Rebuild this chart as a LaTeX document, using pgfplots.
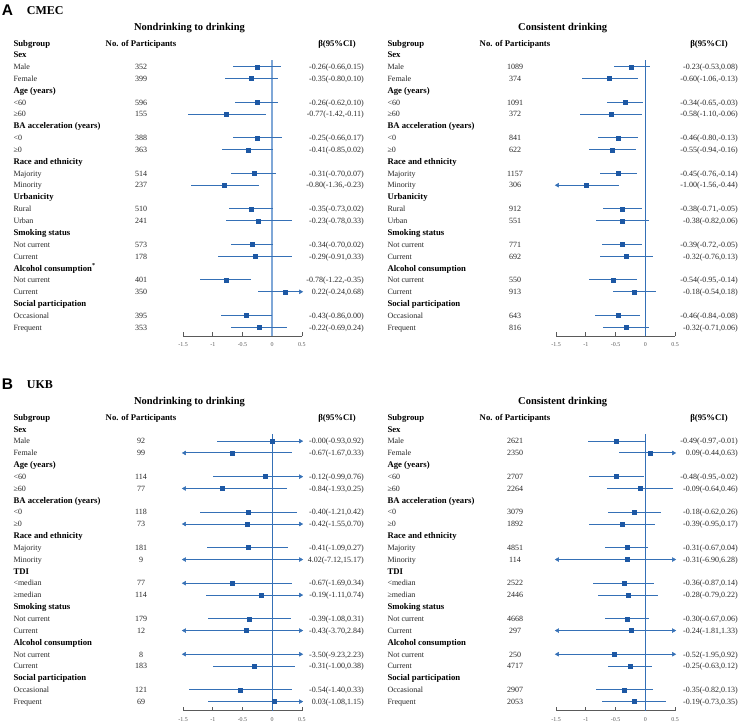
\documentclass[border=0pt]{standalone}
\usepackage{fontspec}
\setmainfont{Liberation Serif}
\newfontfamily\sansfont{Liberation Sans}
\usepackage{pgfplots}
\usepackage{pgfplotstable}
\pgfplotsset{compat=1.18}

\definecolor{ciblue}{HTML}{3570B6}
\definecolor{sqblue}{HTML}{1D58A4}
\definecolor{zlight}{HTML}{7FA7D7}
\definecolor{txt}{HTML}{262626}
\definecolor{axgray}{HTML}{5A5A5A}

% r = row, est, lo, hi
\pgfplotstableread{
r est lo hi
2 -0.26 -0.66 0.15
3 -0.35 -0.80 0.10
5 -0.26 -0.62 0.10
6 -0.77 -1.42 -0.11
8 -0.25 -0.66 0.17
9 -0.41 -0.85 0.02
11 -0.31 -0.70 0.07
12 -0.80 -1.36 -0.23
14 -0.35 -0.73 0.02
15 -0.23 -0.78 0.33
17 -0.34 -0.70 0.02
18 -0.29 -0.91 0.33
20 -0.78 -1.22 -0.35
21 0.22 -0.24 0.68
23 -0.43 -0.86 0.00
24 -0.22 -0.69 0.24
}\dataAL

\pgfplotstableread{
r est lo hi
2 -0.23 -0.53 0.08
3 -0.60 -1.06 -0.13
5 -0.34 -0.65 -0.03
6 -0.58 -1.10 -0.06
8 -0.46 -0.80 -0.13
9 -0.55 -0.94 -0.16
11 -0.45 -0.76 -0.14
12 -1.00 -1.56 -0.44
14 -0.38 -0.71 -0.05
15 -0.38 -0.82 0.06
17 -0.39 -0.72 -0.05
18 -0.32 -0.76 0.13
20 -0.54 -0.95 -0.14
21 -0.18 -0.54 0.18
23 -0.46 -0.84 -0.08
24 -0.32 -0.71 0.06
}\dataAR

\pgfplotstableread{
r est lo hi
2 -0.00 -0.93 0.92
3 -0.67 -1.67 0.33
5 -0.12 -0.99 0.76
6 -0.84 -1.93 0.25
8 -0.40 -1.21 0.42
9 -0.42 -1.55 0.70
11 -0.41 -1.09 0.27
12 4.02 -7.12 15.17
14 -0.67 -1.69 0.34
15 -0.19 -1.11 0.74
17 -0.39 -1.08 0.31
18 -0.43 -3.70 2.84
20 -3.50 -9.23 2.23
21 -0.31 -1.00 0.38
23 -0.54 -1.40 0.33
24 0.03 -1.08 1.15
}\dataBL

\pgfplotstableread{
r est lo hi
2 -0.49 -0.97 -0.01
3 0.09 -0.44 0.63
5 -0.48 -0.95 -0.02
6 -0.09 -0.64 0.46
8 -0.18 -0.62 0.26
9 -0.39 -0.95 0.17
11 -0.31 -0.67 0.04
12 -0.31 -6.90 6.28
14 -0.36 -0.87 0.14
15 -0.28 -0.79 0.22
17 -0.30 -0.67 0.06
18 -0.24 -1.81 1.33
20 -0.52 -1.95 0.92
21 -0.25 -0.63 0.12
23 -0.35 -0.82 0.13
24 -0.19 -0.73 0.35
}\dataBR

\pgfplotsset{forest/.style={
  scale only axis, width=119pt, height=276.2pt,
  xmin=-1.5, xmax=0.5, ymin=-24.76, ymax=-1.43,
  axis x line*=bottom, axis y line=none, ytick=\empty,
  xtick={-1.5,-1,-0.5,0,0.5}, xticklabels={-1.5,-1,-0.5,0,0.5},
  tick align=inside, major tick length=4pt,
  axis line style={axgray, line width=0.6pt},
  xtick style={axgray, line width=0.6pt},
  xticklabel style={font=\fontsize{6}{7}\selectfont, text=axgray, yshift=-3pt},
  clip=false, anchor=south west,
}}

% draws CI lines, arrows, squares from a table
\newcommand{\forestplots}[1]{%
  \addplot[draw=none, mark=none, forget plot,
    error bars/.cd, x dir=both, x explicit, error mark=none,
    error bar style={draw=ciblue, line width=1pt}]
    table[x expr={(max(\thisrow{lo},-1.5)+min(\thisrow{hi},0.5))/2},
          y expr=-\thisrow{r},
          x error expr={(min(\thisrow{hi},0.5)-max(\thisrow{lo},-1.5))/2}] {#1};
  \addplot[only marks, mark=triangle*, mark size=2.2pt, color=ciblue,
    mark options={rotate=90}]
    table[x expr={\thisrow{lo}<-1.5 ? -1.475 : nan}, y expr=-\thisrow{r}] {#1};
  \addplot[only marks, mark=triangle*, mark size=2.2pt, color=ciblue,
    mark options={rotate=-90}]
    table[x expr={\thisrow{hi}>0.5 ? 0.475 : nan}, y expr=-\thisrow{r}] {#1};
  \addplot[only marks, mark=square*, mark size=2pt, color=sqblue,
    restrict x to domain=-1.5:0.5]
    table[x=est, y expr=-\thisrow{r}] {#1};
}

\tikzset{
  labf/.style={font=\fontsize{8}{9}\selectfont, text=txt, inner sep=0pt, text height=5.5pt, text depth=0pt},
  catf/.style={font=\bfseries\fontsize{8.7}{10}\selectfont, text=black, inner sep=0pt, text height=5.8pt, text depth=0pt},
  titf/.style={font=\bfseries\fontsize{10.5}{12}\selectfont, text=black, inner sep=0pt, text height=7pt, text depth=0pt},
}

% #1 xoff, #2 y0 (px of row 1), #3 row, #4 text
\newcommand{\CAT}[4]{\node[catf,anchor=west] at ({13.3+#1},{722-(#2+(#3-1)*11.84)}) {#4};}
% #1 xoff, #2 y0, #3 row, #4 label, #5 n, #6 ci
\newcommand{\ROW}[6]{%
  \node[labf,anchor=west] at ({13.3+#1},{722-(#2+(#3-1)*11.84)}) {#4};
  \node[labf] at ({141+#1},{722-(#2+(#3-1)*11.84)}) {#5};
  \node[labf,anchor=east] at ({364+#1},{722-(#2+(#3-1)*11.84)}) {#6};}
% #1 xoff, #2 header y px, #3 beta header center x
\newcommand{\HDR}[3]{%
  \node[catf,anchor=west] at ({13.3+#1},{722-#2}) {Subgroup};
  \node[catf] at ({141+#1},{722-#2}) {No. of Participants};
  \node[catf] at (#3,{722-#2}) {β(95\%CI)};}

\begin{document}
\begin{tikzpicture}[x=1pt,y=1pt]
\path[use as bounding box] (0,0) rectangle (740,722);

% ---------------- Panel A ----------------
\begin{axis}[forest, at={(183pt,385.7pt)}]
  \addplot[zlight, line width=1.7pt, forget plot] coordinates {(0,-1.43) (0,-24.76)};
  \forestplots{\dataAL}
\end{axis}
\begin{axis}[forest, at={(556pt,385.7pt)}]
  \addplot[ciblue, line width=1pt, forget plot] coordinates {(0,-1.43) (0,-24.76)};
  \forestplots{\dataAR}
\end{axis}

% ---------------- Panel B ----------------
\begin{axis}[forest, at={(183pt,11.4pt)}]
  \addplot[ciblue, line width=1pt, forget plot] coordinates {(0,-1.43) (0,-24.76)};
  \forestplots{\dataBL}
\end{axis}
\begin{axis}[forest, at={(556pt,11.4pt)}]
  \addplot[ciblue, line width=1pt, forget plot] coordinates {(0,-1.43) (0,-24.76)};
  \forestplots{\dataBR}
\end{axis}

% ---------------- Texts panel A ----------------
\node[font=\sansfont\bfseries\fontsize{15.5}{16}\selectfont, anchor=west, inner sep=0pt] at (1.7,712) {A};
\node[font=\bfseries\fontsize{12}{13}\selectfont, anchor=west, inner sep=0pt] at (26.7,711) {CMEC};
\node[titf] at (189.5,695.3) {Nondrinking to drinking};
\node[titf] at (562.7,695.3) {Consistent drinking};
\HDR{0}{43.3}{337}
\HDR{374}{43.3}{709}

% A left
\CAT{0}{55}{1}{Sex}
\ROW{0}{55}{2}{Male}{352}{-0.26(-0.66,0.15)}
\ROW{0}{55}{3}{Female}{399}{-0.35(-0.80,0.10)}
\CAT{0}{55}{4}{Age (years)}
\ROW{0}{55}{5}{<60}{596}{-0.26(-0.62,0.10)}
\ROW{0}{55}{6}{≥60}{155}{-0.77(-1.42,-0.11)}
\CAT{0}{55}{7}{BA acceleration (years)}
\ROW{0}{55}{8}{<0}{388}{-0.25(-0.66,0.17)}
\ROW{0}{55}{9}{≥0}{363}{-0.41(-0.85,0.02)}
\CAT{0}{55}{10}{Race and ethnicity}
\ROW{0}{55}{11}{Majority}{514}{-0.31(-0.70,0.07)}
\ROW{0}{55}{12}{Minority}{237}{-0.80(-1.36,-0.23)}
\CAT{0}{55}{13}{Urbanicity}
\ROW{0}{55}{14}{Rural}{510}{-0.35(-0.73,0.02)}
\ROW{0}{55}{15}{Urban}{241}{-0.23(-0.78,0.33)}
\CAT{0}{55}{16}{Smoking status}
\ROW{0}{55}{17}{Not current}{573}{-0.34(-0.70,0.02)}
\ROW{0}{55}{18}{Current}{178}{-0.29(-0.91,0.33)}
\CAT{0}{55}{19}{Alcohol consumption\textsuperscript{*}}
\ROW{0}{55}{20}{Not current}{401}{-0.78(-1.22,-0.35)}
\ROW{0}{55}{21}{Current}{350}{0.22(-0.24,0.68)}
\CAT{0}{55}{22}{Social participation}
\ROW{0}{55}{23}{Occasional}{395}{-0.43(-0.86,0.00)}
\ROW{0}{55}{24}{Frequent}{353}{-0.22(-0.69,0.24)}

% A right
\CAT{374}{55}{1}{Sex}
\ROW{374}{55}{2}{Male}{1089}{-0.23(-0.53,0.08)}
\ROW{374}{55}{3}{Female}{374}{-0.60(-1.06,-0.13)}
\CAT{374}{55}{4}{Age (years)}
\ROW{374}{55}{5}{<60}{1091}{-0.34(-0.65,-0.03)}
\ROW{374}{55}{6}{≥60}{372}{-0.58(-1.10,-0.06)}
\CAT{374}{55}{7}{BA acceleration (years)}
\ROW{374}{55}{8}{<0}{841}{-0.46(-0.80,-0.13)}
\ROW{374}{55}{9}{≥0}{622}{-0.55(-0.94,-0.16)}
\CAT{374}{55}{10}{Race and ethnicity}
\ROW{374}{55}{11}{Majority}{1157}{-0.45(-0.76,-0.14)}
\ROW{374}{55}{12}{Minority}{306}{-1.00(-1.56,-0.44)}
\CAT{374}{55}{13}{Urbanicity}
\ROW{374}{55}{14}{Rural}{912}{-0.38(-0.71,-0.05)}
\ROW{374}{55}{15}{Urban}{551}{-0.38(-0.82,0.06)}
\CAT{374}{55}{16}{Smoking status}
\ROW{374}{55}{17}{Not current}{771}{-0.39(-0.72,-0.05)}
\ROW{374}{55}{18}{Current}{692}{-0.32(-0.76,0.13)}
\CAT{374}{55}{19}{Alcohol consumption}
\ROW{374}{55}{20}{Not current}{550}{-0.54(-0.95,-0.14)}
\ROW{374}{55}{21}{Current}{913}{-0.18(-0.54,0.18)}
\CAT{374}{55}{22}{Social participation}
\ROW{374}{55}{23}{Occasional}{643}{-0.46(-0.84,-0.08)}
\ROW{374}{55}{24}{Frequent}{816}{-0.32(-0.71,0.06)}

% ---------------- Texts panel B ----------------
\node[font=\sansfont\bfseries\fontsize{15.5}{16}\selectfont, anchor=west, inner sep=0pt] at (1.7,338) {B};
\node[font=\bfseries\fontsize{12}{13}\selectfont, anchor=west, inner sep=0pt] at (26.7,337) {UKB};
\node[titf] at (189.5,321) {Nondrinking to drinking};
\node[titf] at (562.7,321) {Consistent drinking};
\HDR{0}{417.3}{337}
\HDR{374}{417.3}{709}

% B left
\CAT{0}{429.3}{1}{Sex}
\ROW{0}{429.3}{2}{Male}{92}{-0.00(-0.93,0.92)}
\ROW{0}{429.3}{3}{Female}{99}{-0.67(-1.67,0.33)}
\CAT{0}{429.3}{4}{Age (years)}
\ROW{0}{429.3}{5}{<60}{114}{-0.12(-0.99,0.76)}
\ROW{0}{429.3}{6}{≥60}{77}{-0.84(-1.93,0.25)}
\CAT{0}{429.3}{7}{BA acceleration (years)}
\ROW{0}{429.3}{8}{<0}{118}{-0.40(-1.21,0.42)}
\ROW{0}{429.3}{9}{≥0}{73}{-0.42(-1.55,0.70)}
\CAT{0}{429.3}{10}{Race and ethnicity}
\ROW{0}{429.3}{11}{Majority}{181}{-0.41(-1.09,0.27)}
\ROW{0}{429.3}{12}{Minority}{9}{4.02(-7.12,15.17)}
\CAT{0}{429.3}{13}{TDI}
\ROW{0}{429.3}{14}{<median}{77}{-0.67(-1.69,0.34)}
\ROW{0}{429.3}{15}{≥median}{114}{-0.19(-1.11,0.74)}
\CAT{0}{429.3}{16}{Smoking status}
\ROW{0}{429.3}{17}{Not current}{179}{-0.39(-1.08,0.31)}
\ROW{0}{429.3}{18}{Current}{12}{-0.43(-3.70,2.84)}
\CAT{0}{429.3}{19}{Alcohol consumption}
\ROW{0}{429.3}{20}{Not current}{8}{-3.50(-9.23,2.23)}
\ROW{0}{429.3}{21}{Current}{183}{-0.31(-1.00,0.38)}
\CAT{0}{429.3}{22}{Social participation}
\ROW{0}{429.3}{23}{Occasional}{121}{-0.54(-1.40,0.33)}
\ROW{0}{429.3}{24}{Frequent}{69}{0.03(-1.08,1.15)}

% B right
\CAT{374}{429.3}{1}{Sex}
\ROW{374}{429.3}{2}{Male}{2621}{-0.49(-0.97,-0.01)}
\ROW{374}{429.3}{3}{Female}{2350}{0.09(-0.44,0.63)}
\CAT{374}{429.3}{4}{Age (years)}
\ROW{374}{429.3}{5}{<60}{2707}{-0.48(-0.95,-0.02)}
\ROW{374}{429.3}{6}{≥60}{2264}{-0.09(-0.64,0.46)}
\CAT{374}{429.3}{7}{BA acceleration (years)}
\ROW{374}{429.3}{8}{<0}{3079}{-0.18(-0.62,0.26)}
\ROW{374}{429.3}{9}{≥0}{1892}{-0.39(-0.95,0.17)}
\CAT{374}{429.3}{10}{Race and ethnicity}
\ROW{374}{429.3}{11}{Majority}{4851}{-0.31(-0.67,0.04)}
\ROW{374}{429.3}{12}{Minority}{114}{-0.31(-6.90,6.28)}
\CAT{374}{429.3}{13}{TDI}
\ROW{374}{429.3}{14}{<median}{2522}{-0.36(-0.87,0.14)}
\ROW{374}{429.3}{15}{≥median}{2446}{-0.28(-0.79,0.22)}
\CAT{374}{429.3}{16}{Smoking status}
\ROW{374}{429.3}{17}{Not current}{4668}{-0.30(-0.67,0.06)}
\ROW{374}{429.3}{18}{Current}{297}{-0.24(-1.81,1.33)}
\CAT{374}{429.3}{19}{Alcohol consumption}
\ROW{374}{429.3}{20}{Not current}{250}{-0.52(-1.95,0.92)}
\ROW{374}{429.3}{21}{Current}{4717}{-0.25(-0.63,0.12)}
\CAT{374}{429.3}{22}{Social participation}
\ROW{374}{429.3}{23}{Occasional}{2907}{-0.35(-0.82,0.13)}
\ROW{374}{429.3}{24}{Frequent}{2053}{-0.19(-0.73,0.35)}
\end{tikzpicture}
\end{document}
